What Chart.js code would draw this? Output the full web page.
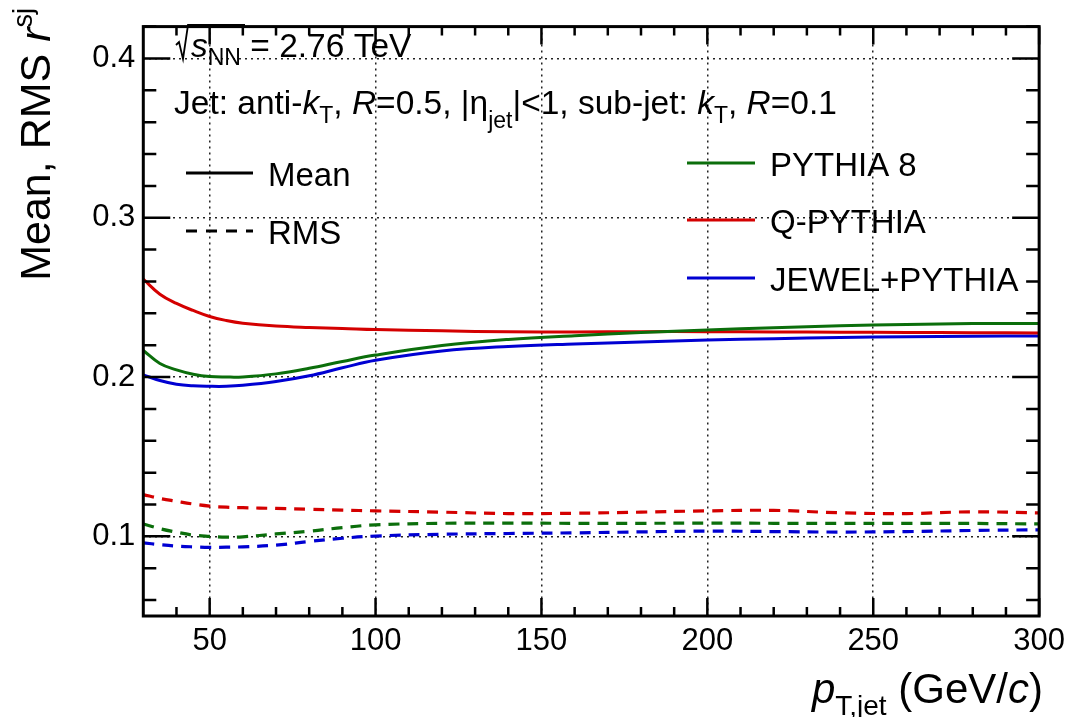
<!DOCTYPE html>
<html>
<head>
<meta charset="utf-8">
<script src="https://cdn.jsdelivr.net/npm/chart.js@4/dist/chart.umd.min.js"></script>
<style>
  html, body { margin: 0; padding: 0; background: #fff; }
  canvas { display: block; }
</style>
</head>
<body>
<canvas id="rsjChart" width="1072" height="717"></canvas>
<script>
// jet pT points (GeV/c)
const pT = [30, 35, 40, 45, 50, 55, 60, 70, 80, 90, 100, 120, 140, 160, 180, 200, 220, 240, 260, 280, 300];

// Mean r_sj
const meanPythia  = [0.2167, 0.2085, 0.2045, 0.2018, 0.2003, 0.2000, 0.2001, 0.2020, 0.2055, 0.2098, 0.2138, 0.2198, 0.2236, 0.2260, 0.2279, 0.2296, 0.2310, 0.2322, 0.2330, 0.2336, 0.2336];
const meanQPythia = [0.2615, 0.2520, 0.2462, 0.2418, 0.2380, 0.2355, 0.2338, 0.2320, 0.2311, 0.2305, 0.2298, 0.2290, 0.2284, 0.2283, 0.2285, 0.2285, 0.2283, 0.2282, 0.2280, 0.2278, 0.2277];
const meanJewel   = [0.2014, 0.1978, 0.1955, 0.1945, 0.1942, 0.1942, 0.1948, 0.1972, 0.2008, 0.2058, 0.2105, 0.2163, 0.2192, 0.2208, 0.2220, 0.2232, 0.2241, 0.2248, 0.2253, 0.2256, 0.2258];

// RMS r_sj
const rmsPythia  = [0.1078, 0.1048, 0.1026, 0.1008, 0.1000, 0.0995, 0.0997, 0.1015, 0.1032, 0.1055, 0.1072, 0.1082, 0.1083, 0.1082, 0.1082, 0.1083, 0.1082, 0.1081, 0.1082, 0.1081, 0.1078];
const rmsQPythia = [0.1262, 0.1238, 0.1220, 0.1203, 0.1190, 0.1183, 0.1180, 0.1175, 0.1170, 0.1165, 0.1160, 0.1152, 0.1143, 0.1145, 0.1152, 0.1160, 0.1163, 0.1148, 0.1143, 0.1154, 0.1147];
const rmsJewel   = [0.0959, 0.0948, 0.0939, 0.0934, 0.0931, 0.0932, 0.0934, 0.0945, 0.0968, 0.0988, 0.1002, 0.1013, 0.1018, 0.1022, 0.1028, 0.1033, 0.1030, 0.1027, 0.1030, 0.1037, 0.1041];

const xTicks = [50, 100, 150, 200, 250, 300];
const yTicks = [0.1, 0.2, 0.3, 0.4];

const GREEN = '#0b6e0b';
const RED = '#d40000';
const BLUE = '#0000d2';
const FONT = '"Liberation Sans", Arial, Helvetica, sans-serif';

function pts(arr) {
    return pT.map((x, i) => ({ x: x, y: arr[i] }));
}

function curve(label, arr, color, dashed) {
    return {
        label: label,
        data: pts(arr),
        borderColor: color,
        borderWidth: dashed ? 3.2 : 3,
        borderDash: dashed ? [11, 8] : [],
        pointRadius: 0,
        fill: false,
        tension: 0.4
    };
}

// draws a run of text pieces: [text, size, italic, dy]
function rich(ctx, parts, x, y, align) {
    let total = 0;
    parts.forEach(p => {
        ctx.font = (p[2] ? 'italic ' : '') + p[1] + 'px ' + FONT;
        p.w = ctx.measureText(p[0]).width;
        total += p.w;
    });
    let cx = align === 'right' ? x - total : x;
    ctx.textAlign = 'left';
    ctx.textBaseline = 'alphabetic';
    parts.forEach(p => {
        ctx.font = (p[2] ? 'italic ' : '') + p[1] + 'px ' + FONT;
        ctx.fillText(p[0], cx, y + (p[3] || 0));
        cx += p.w;
    });
    return total;
}

const decorations = {
    id: 'decorations',
    afterDatasetsDraw(chart) {
        const ctx = chart.ctx;
        const xa = chart.scales.x, ya = chart.scales.y;
        const { left, right, top, bottom } = chart.chartArea;
        ctx.save();
        ctx.strokeStyle = '#000';
        ctx.fillStyle = '#000';
        ctx.lineWidth = 2.5;
        ctx.setLineDash([]);

        // x ticks, bottom and top
        for (let v = 40; v <= 300; v += 10) {
            const len = v % 50 === 0 ? 18 : 9;
            const px = xa.getPixelForValue(v);
            ctx.beginPath();
            ctx.moveTo(px, bottom); ctx.lineTo(px, bottom - len);
            ctx.moveTo(px, top); ctx.lineTo(px, top + len);
            ctx.stroke();
        }
        // y ticks, left and right
        for (let k = 3; k <= 21; k++) {
            const len = k % 5 === 0 ? 27 : 13;
            const py = ya.getPixelForValue(k * 0.02);
            ctx.beginPath();
            ctx.moveTo(left, py); ctx.lineTo(left + len, py);
            ctx.moveTo(right, py); ctx.lineTo(right - len, py);
            ctx.stroke();
        }
        ctx.lineWidth = 3;
        ctx.strokeRect(left, top, right - left, bottom - top);

        // axis titles
        rich(ctx, [['p', 42, true, 0], ['T,jet', 28, false, 12], [' (GeV/', 42, false, 0], ['c', 42, true, 0], [')', 42, false, 0]], 1043, 703, 'right');
        ctx.save();
        ctx.translate(50, 8);
        ctx.rotate(-Math.PI / 2);
        rich(ctx, [['Mean, RMS ', 43, false, 0], ['r', 43, true, 0], ['sj', 27, false, -18]], 0, 0, 'right');
        ctx.restore();

        // energy label with radical sign
        ctx.lineWidth = 1.8;
        ctx.beginPath();
        ctx.moveTo(176, 45); ctx.lineTo(179, 42); ctx.lineTo(183, 59); ctx.lineTo(188, 25); ctx.lineTo(245, 25);
        ctx.stroke();
        rich(ctx, [['s', 33.5, true, 0], ['NN', 23, false, 8], [' = 2.76 TeV', 33.5, false, 0]], 191, 57, 'left');

        rich(ctx, [
            ['Jet: anti-', 33.5, false, 0], ['k', 33.5, true, 0], ['T', 23, false, 9], [', ', 33.5, false, 0],
            ['R', 33.5, true, 0], ['=0.5, |', 33.5, false, 0], ['\u03b7', 33.5, false, 0], ['jet', 23, false, 14],
            ['|<1, sub-jet: ', 33.5, false, 0], ['k', 33.5, true, 0], ['T', 23, false, 9], [', ', 33.5, false, 0],
            ['R', 33.5, true, 0], ['=0.1', 33.5, false, 0]
        ], 174, 114, 'left');

        // legends
        const entry = (x1, x2, y, color, dash, text) => {
            ctx.strokeStyle = color;
            ctx.lineWidth = 3;
            ctx.setLineDash(dash);
            ctx.beginPath(); ctx.moveTo(x1, y); ctx.lineTo(x2, y); ctx.stroke();
            ctx.setLineDash([]);
            rich(ctx, [[text, 33, false, 0]], x2 + 15, y + 13, 'left');
        };
        entry(186, 253, 173, '#000', [], 'Mean');
        entry(186, 253, 231, '#000', [11, 9], 'RMS');
        entry(687, 755, 163, GREEN, [], 'PYTHIA 8');
        entry(687, 755, 220, RED, [], 'Q-PYTHIA');
        entry(687, 755, 278, BLUE, [], 'JEWEL+PYTHIA');
        ctx.restore();
    }
};

new Chart(document.getElementById('rsjChart').getContext('2d'), {
    type: 'line',
    data: {
        datasets: [
            curve('PYTHIA 8', meanPythia, GREEN, false),
            curve('Q-PYTHIA', meanQPythia, RED, false),
            curve('JEWEL+PYTHIA', meanJewel, BLUE, false),
            curve('PYTHIA 8 RMS', rmsPythia, GREEN, true),
            curve('Q-PYTHIA RMS', rmsQPythia, RED, true),
            curve('JEWEL+PYTHIA RMS', rmsJewel, BLUE, true)
        ]
    },
    options: {
        responsive: false,
        animation: false,
        devicePixelRatio: 1,
        layout: { padding: { top: 14, right: 32, left: 0, bottom: 0 } },
        plugins: {
            legend: { display: false },
            tooltip: { enabled: false }
        },
        scales: {
            x: {
                type: 'linear',
                min: 30,
                max: 300,
                afterBuildTicks: s => { s.ticks = xTicks.map(v => ({ value: v })); },
                afterFit: s => { s.height = 101; },
                ticks: {
                    padding: 7,
                    color: '#000',
                    maxRotation: 0,
                    font: { family: FONT, size: 31 },
                    callback: v => String(v)
                },
                grid: { color: '#222', lineWidth: 1.5, drawTicks: false },
                border: { display: false, dash: [2, 4] }
            },
            y: {
                min: 0.05,
                max: 0.42,
                afterBuildTicks: s => { s.ticks = yTicks.map(v => ({ value: v })); },
                afterFit: s => { s.width = 143.3; },
                ticks: {
                    padding: 8,
                    color: '#000',
                    font: { family: FONT, size: 31 },
                    callback: v => v.toFixed(1)
                },
                grid: { color: '#222', lineWidth: 1.5, drawTicks: false },
                border: { display: false, dash: [2, 4] }
            }
        }
    },
    plugins: [decorations]
});
</script>
</body>
</html>
